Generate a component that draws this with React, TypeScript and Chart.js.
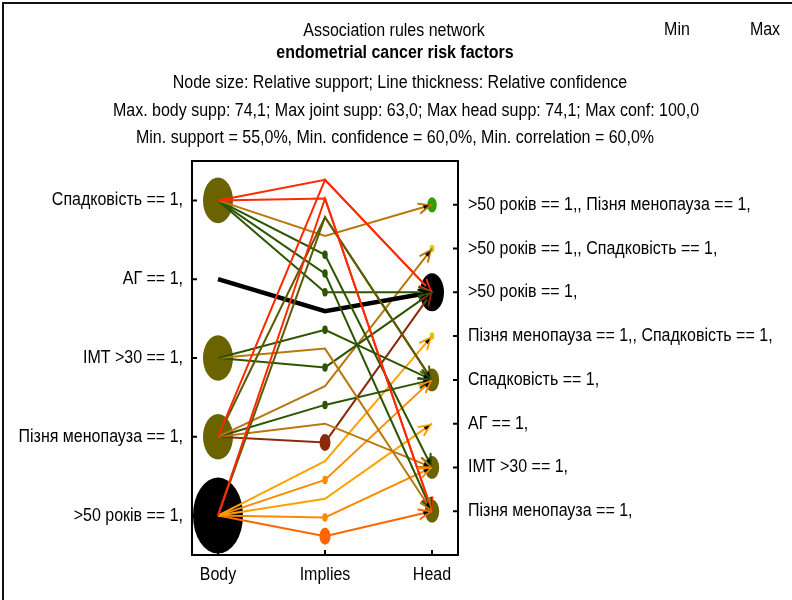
import React, { useEffect, useRef } from "react";
import { Chart, registerables } from "chart.js";

Chart.register(...registerables);

// ---------- data ----------
const columnLabels = ["Body", "Implies", "Head"];
const bodyItems = [
  "Спадковість == 1,",
  "АГ == 1,",
  "ІМТ >30 == 1,",
  "Пізня менопауза == 1,",
  ">50 років == 1,",
];
const bodySupport = [66.7, 55.6, 66.7, 66.7, 74.1];
const headItems = [
  ">50 років == 1,, Пізня менопауза == 1,",
  ">50 років == 1,, Спадковість == 1,",
  ">50 років == 1,",
  "Пізня менопауза == 1,, Спадковість == 1,",
  "Спадковість == 1,",
  "АГ == 1,",
  "ІМТ >30 == 1,",
  "Пізня менопауза == 1,",
];
const headSupport = [63.0, 59.3, 74.1, 59.3, 66.7, 55.6, 66.7, 66.7];
// rules: body item indices -> head item index
const ruleBodies = [[0, 3], [0, 4], [3, 4], [0], [0], [0], [0], [1], [2], [2], [2], [3], [3], [3], [3], [4], [4], [4], [4], [4]];
const ruleHeads = [2, 7, 4, 0, 6, 7, 2, 2, 4, 7, 2, 1, 4, 6, 2, 3, 4, 5, 6, 7];
const ruleJointSupport = [55.6, 55.6, 55.6, 55.6, 59.3, 59.3, 59.3, 55.6, 59.3, 55.6, 59.3, 55.6, 59.3, 55.6, 63.0, 55.6, 59.3, 55.6, 59.3, 63.0];
const ruleConfidence = [77.8, 77.8, 77.8, 77.8, 77.8, 77.8, 77.8, 100.0, 77.8, 77.8, 77.8, 77.8, 77.8, 77.8, 77.8, 77.8, 77.8, 77.8, 77.8, 77.8];

const headerLines = [
  "Association rules network",
  "endometrial cancer risk factors",
  "Node size: Relative support; Line thickness: Relative confidence",
  "Max. body supp: 74,1; Max joint supp: 63,0; Max head supp: 74,1; Max conf: 100,0",
  "Min. support = 55,0%, Min. confidence = 60,0%, Min. correlation = 60,0%",
];
const legendLabels = ["Min", "Max"];

// ---------- styles ----------
const FONT = '"Liberation Sans", Arial, sans-serif';
const FONT_SIZE = 16;
const STRETCH = 1.13;
const headerX = [394, 395, 400, 406, 395];
const headerY = [31, 53, 83, 111, 138];
const ruleColors = [
  "#ff2a00", "#ff2a00", "#5e5a00", "#b8780c", "#2b5500", "#2b5500", "#2b5500", "#000000",
  "#2b5500", "#b8780c", "#2b5500", "#b8780c", "#2b5500", "#b8780c", "#8b2a0a",
  "#ffa200", "#ff8a00", "#ffa200", "#ff8a00", "#ff6600",
];
function supportColor(s: number) {
  if (s >= 74) return "#000000";
  if (s >= 66) return "#6b6300";
  if (s >= 62) return "#2ea000";
  return "#dcc800";
}

const bodyPos = (i: number) => (i + 0.5) / bodyItems.length;
const headPos = (j: number) => (j + 1) / (headItems.length + 1);
const impliesPos = (k: number) => (k + 1) / (ruleHeads.length + 1);

const minSupp = Math.min(...bodySupport, ...headSupport, ...ruleJointSupport);
const maxBody = Math.max(...bodySupport);
const maxHead = Math.max(...headSupport);
const maxJoint = Math.max(...ruleJointSupport);
const lineWidth = (c: number) => 4.5 * (c - 60) / 40;

function ellipse(ctx: CanvasRenderingContext2D, x: number, y: number, rx: number, ry: number, color: string) {
  if (rx <= 0.3 || ry <= 0.3) return;
  ctx.beginPath();
  ctx.ellipse(x, y, rx, ry, 0, 0, Math.PI * 2);
  ctx.fillStyle = color;
  ctx.fill();
}

function drawText(ctx: CanvasRenderingContext2D, text: string, x: number, y: number, align: CanvasTextAlign, bold = false) {
  ctx.save();
  ctx.translate(x, y);
  ctx.scale(1, STRETCH);
  ctx.font = (bold ? "bold " : "") + FONT_SIZE + "px " + FONT;
  ctx.textAlign = align;
  ctx.textBaseline = "middle";
  ctx.fillStyle = "#000";
  ctx.fillText(text, 0, 0);
  ctx.restore();
}

const networkPlugin = {
  id: "network",
  beforeDatasetsDraw(chart: any) {
    const { ctx } = chart;
    const xs = chart.scales.x, ys = chart.scales.y;
    ctx.save();
    bodySupport.forEach((s, i) => {
      const r = (s - minSupp) / (maxBody - minSupp);
      ellipse(ctx, xs.getPixelForValue(0), ys.getPixelForValue(bodyPos(i)), 25 * r, 38 * r, supportColor(s));
    });
    headSupport.forEach((s, j) => {
      const r = (s - minSupp) / (maxHead - minSupp);
      ellipse(ctx, xs.getPixelForValue(2), ys.getPixelForValue(headPos(j)), 12 * r, 19 * r, supportColor(s));
    });
    ruleJointSupport.forEach((s, k) => {
      const r = (s - minSupp) / (maxJoint - minSupp);
      ellipse(ctx, xs.getPixelForValue(1), ys.getPixelForValue(impliesPos(k)), 5.5 * r, 8.5 * r, ruleColors[k]);
    });
    ctx.restore();
  },
  afterDatasetsDraw(chart: any) {
    const { ctx, chartArea } = chart;
    const xs = chart.scales.x, ys = chart.scales.y;
    ctx.save();
    // arrowheads
    ruleHeads.forEach((h, k) => {
      const x1 = xs.getPixelForValue(1), y1 = ys.getPixelForValue(impliesPos(k));
      const x2 = xs.getPixelForValue(2), y2 = ys.getPixelForValue(headPos(h));
      const a = Math.atan2(y2 - y1, x2 - x1);
      const tx = x2 - 2 * Math.cos(a), ty = y2 - 2 * Math.sin(a);
      const L = 12, ang = 0.42;
      ctx.strokeStyle = ruleColors[k];
      ctx.lineWidth = 2;
      ctx.lineCap = "round";
      ctx.beginPath();
      ctx.moveTo(tx - L * Math.cos(a - ang), ty - L * Math.sin(a - ang));
      ctx.lineTo(tx, ty);
      ctx.lineTo(tx - L * Math.cos(a + ang), ty - L * Math.sin(a + ang));
      ctx.stroke();
      ctx.fillStyle = "#000";
      ctx.beginPath();
      ctx.moveTo(tx - 1 * Math.cos(a), ty - 1 * Math.sin(a));
      ctx.lineTo(tx - 7 * Math.cos(a - 0.28), ty - 7 * Math.sin(a - 0.28));
      ctx.lineTo(tx - 7 * Math.cos(a + 0.28), ty - 7 * Math.sin(a + 0.28));
      ctx.closePath();
      ctx.fill();
    });
    // frame
    ctx.strokeStyle = "#000";
    ctx.lineWidth = 2;
    ctx.lineCap = "butt";
    ctx.strokeRect(chartArea.left, chartArea.top, chartArea.right - chartArea.left, chartArea.bottom - chartArea.top);
    // inward ticks
    ctx.beginPath();
    bodyItems.forEach((_, i) => {
      const y = ys.getPixelForValue(bodyPos(i));
      ctx.moveTo(chartArea.left, y); ctx.lineTo(chartArea.left + 5, y);
    });
    headItems.forEach((_, j) => {
      const y = ys.getPixelForValue(headPos(j));
      ctx.moveTo(chartArea.right, y); ctx.lineTo(chartArea.right - 5, y);
    });
    columnLabels.forEach((_, c) => {
      const x = xs.getPixelForValue(c);
      ctx.moveTo(x, chartArea.bottom); ctx.lineTo(x, chartArea.bottom - 5);
    });
    ctx.stroke();
    ctx.restore();
  },
  afterDraw(chart: any) {
    const { ctx, chartArea } = chart;
    const xs = chart.scales.x, ys = chart.scales.y;
    ctx.save();
    headerLines.forEach((t, i) => drawText(ctx, t, headerX[i], headerY[i], "center", i === 1));
    drawText(ctx, legendLabels[0], 677, 30, "center");
    drawText(ctx, legendLabels[1], 765, 30, "center");
    // axis labels
    bodyItems.forEach((t, i) => drawText(ctx, t, chartArea.left - 9, ys.getPixelForValue(bodyPos(i)), "right"));
    headItems.forEach((t, j) => drawText(ctx, t, chartArea.right + 10, ys.getPixelForValue(headPos(j)), "left"));
    columnLabels.forEach((t, c) => drawText(ctx, t, xs.getPixelForValue(c), chartArea.bottom + 20, "center"));
    // outer border
    ctx.strokeStyle = "#111";
    ctx.lineWidth = 2;
    ctx.beginPath();
    ctx.moveTo(3, 600); ctx.lineTo(3, 3); ctx.lineTo(792, 3);
    ctx.stroke();
    ctx.restore();
  },
};

function buildDatasets() {
  const ds: any[] = [];
  ruleBodies.forEach((bodies, k) => {
    bodies.forEach((b) => {
      ds.push({
        data: [
          { x: 0, y: bodyPos(b) },
          { x: 1, y: impliesPos(k) },
          { x: 2, y: headPos(ruleHeads[k]) },
        ],
        showLine: true,
        borderColor: ruleColors[k],
        backgroundColor: ruleColors[k],
        borderWidth: lineWidth(ruleConfidence[k]),
        pointRadius: 0,
        pointHoverRadius: 0,
        tension: 0,
        fill: false,
      });
    });
  });
  return ds;
}

export default function App() {
  const ref = useRef<HTMLCanvasElement>(null);
  useEffect(() => {
    const hidden = { display: false };
    const chart = new Chart(ref.current!, {
      type: "scatter",
      data: { datasets: buildDatasets() },
      options: {
        animation: false,
        responsive: false,
        devicePixelRatio: 1,
        layout: { padding: { top: 161, left: 0, right: 0, bottom: 0 } },
        plugins: { legend: hidden, tooltip: { enabled: false }, title: hidden },
        scales: {
          x: {
            type: "linear",
            position: "bottom",
            min: -0.243,
            max: 2.243,
            grid: { display: false, drawTicks: false },
            border: hidden,
            afterBuildTicks: (s: any) => { s.ticks = columnLabels.map((_, i) => ({ value: i })); },
            afterFit: (s: any) => { s.height = 45; },
            ticks: hidden,
          },
          y: {
            type: "linear",
            position: "left",
            min: 0,
            max: 1,
            reverse: true,
            grid: { display: false, drawTicks: false },
            border: hidden,
            afterBuildTicks: (s: any) => { s.ticks = bodyItems.map((_, i) => ({ value: bodyPos(i) })); },
            afterFit: (s: any) => { s.width = 192; },
            ticks: hidden,
          },
          y2: {
            type: "linear",
            position: "right",
            min: 0,
            max: 1,
            reverse: true,
            grid: { display: false, drawTicks: false },
            border: hidden,
            afterBuildTicks: (s: any) => { s.ticks = headItems.map((_, j) => ({ value: headPos(j) })); },
            afterFit: (s: any) => { s.width = 334; },
            ticks: hidden,
          },
        },
      } as any,
      plugins: [networkPlugin],
    });
    return () => chart.destroy();
  }, []);
  return (
    <div style={{ position: "fixed", left: 0, top: 0, width: 792, height: 600, background: "#fff" }}>
      <canvas ref={ref} width={792} height={600} style={{ display: "block" }} />
    </div>
  );
}
